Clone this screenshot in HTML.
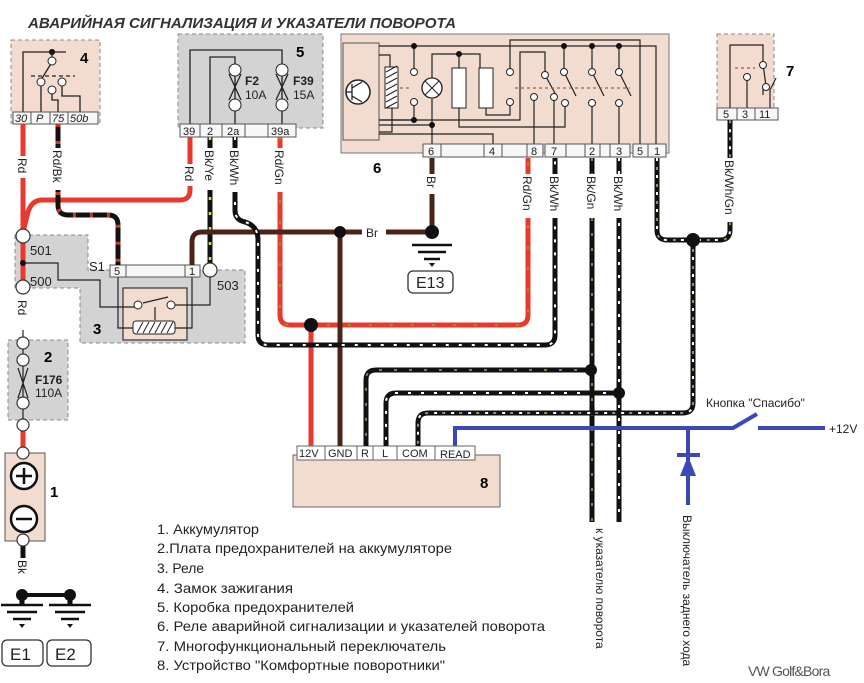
<!DOCTYPE html>
<html><head><meta charset="utf-8"><style>
html,body{margin:0;padding:0;background:#fff}
svg{display:block}
text{font-family:"Liberation Sans",sans-serif}
</style></head><body>
<svg width="864" height="683" viewBox="0 0 864 683" xmlns="http://www.w3.org/2000/svg">
<rect width="864" height="683" fill="#fff"/>
<!-- title -->
<text x="28" y="28" font-size="15" font-weight="bold" font-style="italic" fill="#333" textLength="428" lengthAdjust="spacingAndGlyphs">АВАРИЙНАЯ СИГНАЛИЗАЦИЯ И УКАЗАТЕЛИ ПОВОРОТА</text>

<!-- Box 4 -->
<rect x="11" y="40" width="89" height="83" fill="#f3dccf" stroke="#888" stroke-dasharray="4,3"/>
<g fill="none" stroke="#222" stroke-width="1.3">
<path d="M23,112 V52 H66"/><circle cx="52" cy="52" r="2.5" fill="#111"/>
<path d="M52,52 V62 M52,62 L41,80"/><path d="M31,76 H75" stroke-dasharray="4,3"/>
<path d="M41,82 V112 M52,90 V100 H58 V112 M62,82 V96 H80 V112"/>
</g>
<g fill="#fff" stroke="#222"><circle cx="52" cy="61" r="4"/><circle cx="41" cy="82" r="4"/><circle cx="62" cy="82" r="4"/><circle cx="52" cy="90" r="4"/></g>
<text x="80" y="63" font-size="15" font-weight="bold">4</text>
<g stroke="#555" fill="#f7f7f7"><rect x="13" y="112" width="18" height="12"/><rect x="31" y="112" width="19" height="12"/><rect x="50" y="112" width="18" height="12"/><rect x="68" y="112" width="30" height="12"/></g>
<g font-size="11" font-style="italic" fill="#222"><text x="15" y="122">30</text><text x="36" y="122">P</text><text x="52" y="122">75</text><text x="70" y="122">50b</text></g>

<!-- Box 5 -->
<rect x="178" y="34" width="145" height="94" fill="#d3d3d3" stroke="#888" stroke-dasharray="4,3"/>
<g fill="none" stroke="#222" stroke-width="1.3">
<path d="M190,124 V50 H282 V124"/><path d="M210,124 V57 H235 V124"/>
<path d="M229,74 L241,100 M241,74 L229,100 M276,74 L288,100 M288,74 L276,100"/>
</g>
<g fill="#fff" stroke="#222"><circle cx="235" cy="70" r="6"/><circle cx="235" cy="105" r="6"/><circle cx="282" cy="70" r="6"/><circle cx="282" cy="105" r="6"/></g>
<g font-size="12" fill="#222"><text x="245" y="85" font-weight="bold">F2</text><text x="245" y="99">10A</text><text x="293" y="85" font-weight="bold">F39</text><text x="293" y="99">15A</text></g>
<text x="296" y="57" font-size="15" font-weight="bold">5</text>
<g stroke="#555" fill="#f7f7f7"><rect x="180" y="124" width="20" height="13"/><rect x="200" y="124" width="22" height="13"/><rect x="222" y="124" width="23" height="13"/><rect x="245" y="124" width="23" height="13"/><rect x="268" y="124" width="28" height="13"/></g>
<g font-size="11" fill="#222"><text x="183" y="135">39</text><text x="207" y="135">2</text><text x="227" y="135">2a</text><text x="271" y="135">39a</text></g>

<!-- Box 6 -->
<rect x="341" y="34" width="328" height="119" fill="#f1dccf" stroke="#777"/>
<rect x="343" y="43" width="36" height="97" fill="#f1dccf" stroke="#555"/>
<circle cx="358" cy="92" r="12" fill="#fff" stroke="#222" stroke-width="1.5"/>
<path d="M352,84 V100 M352,92 H346 M352,88 L362,82 M352,96 L362,102" stroke="#222" fill="none" stroke-width="1.3"/>
<g fill="none" stroke="#222" stroke-width="1.2">
<path d="M379,46 H656 V145"/><path d="M510,72 V40 H640 V145"/>
<path d="M379,55 H390 V67 M379,132 H392 V108 M379,120 H414 M414,46 V72 M414,102 V120"/>
<path d="M379,125 H432 M432,99 V145 M432,78 V54 H480 V68 M459,54 V68"/>
<path d="M379,134 H493 V145 M459,108 V127 H565 V103 M486,108 V115 H510 V102 M534,97 V145 M554,97 V145 M545,75 V52 H520 V120 H379"/>
<path d="M564,46 V72 M592,46 V72 M619,46 V72 M592,103 V145 M619,103 V145"/>
<path d="M545,75 L556,95 M564,72 L576,96 M592,72 L604,96 M619,72 L631,96"/>
<path d="M400,88 H410 M515,88 H630" stroke="#a06040" stroke-dasharray="3,3"/>
</g>
<rect x="385" y="67" width="13" height="41" fill="#fff" stroke="#222"/>
<path d="M386,72 L397,66 M386,78 L397,72 M386,84 L397,78 M386,90 L397,84 M386,96 L397,90 M386,102 L397,96 M386,108 L397,102" stroke="#222"/>
<circle cx="432" cy="88" r="10" fill="#fff" stroke="#222" stroke-width="1.3"/>
<path d="M425,81 L439,95 M439,81 L425,95" stroke="#222"/>
<rect x="452" y="68" width="14" height="40" fill="#fff" stroke="#222"/><rect x="479" y="68" width="14" height="40" fill="#fff" stroke="#222"/>
<g fill="#111"><circle cx="414" cy="46" r="3"/><circle cx="414" cy="120" r="3"/><circle cx="432" cy="125" r="3"/><circle cx="459" cy="54" r="3"/><circle cx="564" cy="46" r="3"/><circle cx="592" cy="46" r="3"/><circle cx="619" cy="46" r="3"/></g>
<g fill="#fff" stroke="#222"><circle cx="414" cy="72" r="3.5"/><circle cx="414" cy="102" r="3.5"/><circle cx="510" cy="72" r="3.5"/><circle cx="510" cy="102" r="3.5"/><circle cx="534" cy="97" r="3.5"/><circle cx="545" cy="75" r="3.5"/><circle cx="554" cy="97" r="3.5"/><circle cx="565" cy="103" r="3.5"/><circle cx="564" cy="72" r="3.5"/><circle cx="592" cy="72" r="3.5"/><circle cx="592" cy="103" r="3.5"/><circle cx="619" cy="72" r="3.5"/><circle cx="619" cy="103" r="3.5"/></g>
<g stroke="#555" fill="#f7f7f7"><rect x="423" y="144" width="18" height="13"/><rect x="441" y="144" width="43" height="13"/><rect x="484" y="144" width="18" height="13"/><rect x="502" y="144" width="25" height="13"/><rect x="527" y="144" width="16" height="13"/><rect x="545" y="144" width="21" height="13"/><rect x="566" y="144" width="19" height="13"/><rect x="585" y="144" width="15" height="13"/><rect x="600" y="144" width="10" height="13"/><rect x="610" y="144" width="20" height="13"/><rect x="633" y="144" width="15" height="13"/><rect x="648" y="144" width="18" height="13"/></g>
<g font-size="11" fill="#222"><text x="428" y="155">6</text><text x="489" y="155">4</text><text x="531" y="155">8</text><text x="551" y="155">7</text><text x="589" y="155">2</text><text x="616" y="155">3</text><text x="637" y="155">5</text><text x="654" y="155">1</text></g>
<text x="373" y="173" font-size="15" font-weight="bold">6</text>

<!-- Box 7 -->
<rect x="717" y="34" width="57" height="74" fill="#f3dccf" stroke="#888" stroke-dasharray="4,3"/>
<g fill="none" stroke="#222" stroke-width="1.2"><path d="M730,108 V45 H763 V64 L766,86" /><path d="M747,78 V108 M763,86 V95 M776,78 L770,90 V108"/><path d="M735,68 H755" stroke="#a06040" stroke-dasharray="3,3"/></g>
<g fill="#fff" stroke="#222"><circle cx="763" cy="65" r="3.5"/><circle cx="747" cy="77" r="3.5"/><circle cx="766" cy="87" r="3.5"/></g>
<text x="786" y="76" font-size="15" font-weight="bold">7</text>
<g stroke="#555" fill="#f7f7f7"><rect x="717" y="108" width="20" height="12"/><rect x="737" y="108" width="18" height="12"/><rect x="755" y="108" width="23" height="12"/></g>
<g font-size="11" fill="#222"><text x="723" y="118">5</text><text x="742" y="118">3</text><text x="759" y="118">11</text></g>

<!-- Box 3 -->
<path d="M15,235 H88 V270 H245 V343 H80 V288 H15 Z" fill="#d3d3d3" stroke="#888" stroke-dasharray="4,3"/>
<rect x="123" y="288" width="64" height="52" fill="#f1dccf" stroke="#333" stroke-width="1.2"/>
<g fill="none" stroke="#222" stroke-width="1.2">
<path d="M23,263 H58 V280 H100 V307 H135 M143,303 L168,297 M172,305 H210 V276"/>
<path d="M118,277 V328 H133 M175,328 H192 V277 M155,307 V320" />
</g>
<rect x="133" y="321" width="42" height="13" rx="3" fill="#fff" stroke="#222"/>
<path d="M137,333 L143,322 M143,333 L149,322 M149,333 L155,322 M155,333 L161,322 M161,333 L167,322 M167,333 L173,322" stroke="#222"/>
<g fill="#fff" stroke="#222"><circle cx="138" cy="305" r="4"/><circle cx="171" cy="305" r="4"/></g>
<g stroke="#555" fill="#f7f7f7"><rect x="110" y="265" width="90" height="12"/><rect x="110" y="265" width="16" height="12"/><rect x="185" y="265" width="15" height="12"/></g>
<g font-size="11" fill="#222"><text x="114" y="275">5</text><text x="189" y="275">1</text></g>
<g font-size="13" fill="#222"><text x="89" y="271">S1</text><text x="30" y="255">501</text><text x="30" y="286">500</text><text x="217" y="290">503</text></g>
<text x="93" y="334" font-size="15" font-weight="bold">3</text>

<!-- Box 2 -->
<rect x="8" y="340" width="60" height="80" fill="#d3d3d3" stroke="#888" stroke-dasharray="4,3"/>
<path d="M23,330 V450 M18,368 L28,398 M28,368 L18,398" stroke="#222" fill="none" stroke-width="1.2"/>
<text x="44" y="362" font-size="15" font-weight="bold">2</text>
<g font-size="12" fill="#222"><text x="35" y="384" font-weight="bold">F176</text><text x="35" y="397">110A</text></g>

<!-- Battery -->
<rect x="5" y="453" width="40" height="88" fill="#f1dccf" stroke="#555"/>
<circle cx="24" cy="476" r="13" fill="#fff" stroke="#111" stroke-width="2.5"/>
<path d="M16,476 H32 M24,468 V484" stroke="#111" stroke-width="2.5"/>
<circle cx="24" cy="519" r="13" fill="#fff" stroke="#111" stroke-width="2.5"/>
<path d="M16,519 H32" stroke="#111" stroke-width="2.5"/>
<text x="50" y="497" font-size="15" font-weight="bold">1</text>

<!-- Box 8 -->
<rect x="293" y="455" width="207" height="52" fill="#f1dccf" stroke="#666"/>
<text x="480" y="488" font-size="15" font-weight="bold">8</text>
<g stroke="#666" fill="#fff"><rect x="297" y="446" width="28" height="14"/><rect x="325" y="446" width="32" height="14"/><rect x="357" y="446" width="16" height="14"/><rect x="373" y="446" width="24" height="14"/><rect x="397" y="446" width="38" height="14"/><rect x="435" y="446" width="40" height="14"/></g>
<g font-size="11" fill="#222"><text x="299" y="457">12V</text><text x="328" y="457">GND</text><text x="361" y="457">R</text><text x="382" y="457">L</text><text x="402" y="457">COM</text><text x="440" y="458">READ</text></g>

<!-- Wires base -->
<g fill="none" stroke-width="5" stroke-linecap="butt">
<path d="M23,124 V232 M23,240 V290 M23,420 V450" stroke="#e8392e"/>
<path d="M190,137 V190 Q190,200 180,200 H42 Q32,200 28,212 L23,232" stroke="#e8392e"/>
<path d="M58,124 V205 Q58,215 68,215 H108 Q118,215 118,225 V265" stroke="#111"/>
<path d="M58,124 V205 Q58,215 68,215 H108 Q118,215 118,225 V265" stroke="#c0392b" stroke-dasharray="3,14"/>
<path d="M210,137 V264" stroke="#111"/>
<path d="M210,137 V264" stroke="#e8e030" stroke-width="2.5" stroke-dasharray="3,12"/>
<path d="M280,137 V315 Q280,325 290,325 H518 Q528,325 528,315 V158 M311,325 V446" stroke="#e8392e"/>
<path d="M280,137 V315 Q280,325 290,325 H518 Q528,325 528,315 V158" stroke="#a09020" stroke-width="2" stroke-dasharray="3,18"/>
<path d="M192,265 V242 Q192,232 202,232 H432 M432,158 V232 M340,232 V446" stroke="#4a2418"/>
<path d="M235,137 V210 Q235,220 245,222 Q258,226 258,240 V335 Q258,345 268,345 H545 Q555,345 555,335 V158" stroke="#111"/>
<path d="M235,137 V210 Q235,220 245,222 Q258,226 258,240 V335 Q258,345 268,345 H545 Q555,345 555,335 V158" stroke="#fff" stroke-width="2" stroke-dasharray="3,10"/>
<path d="M619,158 V522 M619,393 H396 Q386,393 386,403 V446" stroke="#111"/>
<path d="M619,158 V522 M619,393 H396 Q386,393 386,403 V446" stroke="#fff" stroke-width="2" stroke-dasharray="3,10"/>
<path d="M592,158 V522 M592,370 H376 Q366,370 366,380 V446" stroke="#111"/>
<path d="M592,158 V522 M592,370 H376 Q366,370 366,380 V446" stroke="#6a8a50" stroke-width="2" stroke-dasharray="3,12"/>
<path d="M657,158 V230 Q657,240 667,240 H720 Q730,240 730,230 V120 M693,240 V403 Q693,413 683,413 H428 Q418,413 418,423 V446" stroke="#111"/>
<path d="M657,158 V230 Q657,240 667,240 H720 Q730,240 730,230 V120 M693,240 V403 Q693,413 683,413 H428 Q418,413 418,423 V446" stroke="#fff" stroke-width="2" stroke-dasharray="3,14"/>
<path d="M657,158 V230 Q657,240 667,240 H720 Q730,240 730,230 V120 M693,240 V403 Q693,413 683,413 H428 Q418,413 418,423 V446" stroke="#7aa060" stroke-width="2" stroke-dasharray="3,14" stroke-dashoffset="8"/>
<path d="M23,540 V578 M22,596 V605 M70,596 V605" stroke="#111"/>
<path d="M22,595 H70" stroke="#111" stroke-width="4"/>
</g>
<!-- junctions -->
<g fill="#111"><circle cx="340" cy="232" r="6"/><circle cx="432" cy="232" r="7"/><circle cx="311" cy="325" r="7"/><circle cx="693" cy="240" r="7"/><circle cx="591" cy="370" r="6"/><circle cx="619" cy="393" r="6"/><circle cx="22" cy="595" r="6"/><circle cx="70" cy="595" r="6"/></g>
<circle cx="23" cy="263" r="3" fill="#111"/>
<!-- open terminals -->
<g fill="#fff" stroke="#333" stroke-width="1.2"><circle cx="23" cy="236" r="7"/><circle cx="23" cy="287" r="7"/><circle cx="210" cy="270" r="7"/><circle cx="23" cy="343" r="6"/><circle cx="23" cy="360" r="6"/><circle cx="23" cy="403" r="6"/><circle cx="23" cy="425" r="6"/><circle cx="23" cy="453" r="6"/><circle cx="23" cy="540" r="6"/></g>

<!-- grounds -->
<g stroke="#111" stroke-width="2.5"><path d="M412,245 H452 M418,252 H446 M424,259 H440"/><path d="M1,605 H43 M7,612 H37 M13,619 H31 M49,605 H91 M55,612 H85 M61,619 H79"/></g>
<path d="M429,263 L435,263 L432,267Z M19,624 L25,624 L22,628Z M67,624 L73,624 L70,628Z" fill="#111"/>
<rect x="408" y="271" width="45" height="22" rx="5" fill="#fff" stroke="#333" stroke-width="1.3"/>
<text x="416" y="288" font-size="16" fill="#222">E13</text>
<rect x="2" y="640" width="41" height="26" rx="5" fill="#fff" stroke="#333" stroke-width="1.3"/>
<rect x="47" y="640" width="44" height="26" rx="5" fill="#fff" stroke="#333" stroke-width="1.3"/>
<text x="10" y="660" font-size="17" fill="#222">E1</text><text x="55" y="660" font-size="17" fill="#222">E2</text>

<!-- wire labels (vertical) -->
<g font-size="12" fill="#222">
<g transform="translate(18,158) rotate(90)"><rect x="-2" y="-11" width="22" height="14" fill="#fff"/><text>Rd</text></g>
<g transform="translate(53,150) rotate(90)"><rect x="-2" y="-11" width="42" height="14" fill="#fff"/><text>Rd/Bk</text></g>
<g transform="translate(185,166) rotate(90)"><rect x="-2" y="-11" width="22" height="14" fill="#fff"/><text>Rd</text></g>
<g transform="translate(205,150) rotate(90)"><rect x="-2" y="-11" width="42" height="14" fill="#fff"/><text>Bk/Ye</text></g>
<g transform="translate(230,150) rotate(90)"><rect x="-2" y="-11" width="44" height="14" fill="#fff"/><text>Bk/Wh</text></g>
<g transform="translate(275,150) rotate(90)"><rect x="-2" y="-11" width="44" height="14" fill="#fff"/><text>Rd/Gn</text></g>
<g transform="translate(427,176) rotate(90)"><rect x="-2" y="-11" width="20" height="14" fill="#fff"/><text>Br</text></g>
<g transform="translate(523,176) rotate(90)"><rect x="-2" y="-11" width="44" height="14" fill="#fff"/><text>Rd/Gn</text></g>
<g transform="translate(550,176) rotate(90)"><rect x="-2" y="-11" width="44" height="14" fill="#fff"/><text>Bk/Wh</text></g>
<g transform="translate(587,176) rotate(90)"><rect x="-2" y="-11" width="44" height="14" fill="#fff"/><text>Bk/Gn</text></g>
<g transform="translate(614,176) rotate(90)"><rect x="-2" y="-11" width="44" height="14" fill="#fff"/><text>Bk/Wh</text></g>
<g transform="translate(725,160) rotate(90)"><rect x="-2" y="-11" width="64" height="14" fill="#fff"/><text>Bk/Wh/Gn</text></g>
<g transform="translate(18,300) rotate(90)"><rect x="-2" y="-11" width="22" height="14" fill="#fff"/><text>Rd</text></g>
<g transform="translate(18,560) rotate(90)"><rect x="-2" y="-11" width="22" height="14" fill="#fff"/><text>Bk</text></g>
<rect x="362" y="225" width="24" height="14" fill="#fff"/><text x="366" y="237">Br</text>
</g>

<!-- blue additions -->
<g fill="none" stroke="#3a48b8" stroke-width="4">
<path d="M455,446 V428 H733 L757,414"/><path d="M758,428 H825"/><path d="M688,428 V505"/><path d="M677,455 H700"/>
</g>
<path d="M688,456 L680,476 H696 Z" fill="#3a48b8"/>
<text x="706" y="407" font-size="12" fill="#222">Кнопка "Спасибо"</text>
<text x="829" y="433" font-size="12" fill="#222">+12V</text>
<g font-size="12" fill="#222">
<text transform="translate(596,528) rotate(90)">к указателю поворота</text>
<text transform="translate(683,515) rotate(90)">Выключатель заднего хода</text>
</g>

<!-- legend -->
<g font-size="14" fill="#222" font-family="'DejaVu Sans',sans-serif" lengthAdjust="spacingAndGlyphs">
<text x="157" y="534" textLength="102" lengthAdjust="spacingAndGlyphs">1. Аккумулятор</text>
<text x="157" y="553" textLength="295" lengthAdjust="spacingAndGlyphs">2.Плата предохранителей на аккумуляторе</text>
<text x="157" y="573" textLength="47" lengthAdjust="spacingAndGlyphs">3. Реле</text>
<text x="157" y="593" textLength="136" lengthAdjust="spacingAndGlyphs">4. Замок зажигания</text>
<text x="157" y="612" textLength="197" lengthAdjust="spacingAndGlyphs">5. Коробка предохранителей</text>
<text x="157" y="631" textLength="388" lengthAdjust="spacingAndGlyphs">6. Реле аварийной сигнализации и указателей поворота</text>
<text x="157" y="651" textLength="289" lengthAdjust="spacingAndGlyphs">7. Многофункциональный переключатель</text>
<text x="157" y="670" textLength="288" lengthAdjust="spacingAndGlyphs">8. Устройство "Комфортные поворотники"</text>
</g>
<text x="748" y="676" font-size="14" fill="#555" letter-spacing="-0.8">VW Golf&amp;Bora</text>
</svg>
</body></html>
